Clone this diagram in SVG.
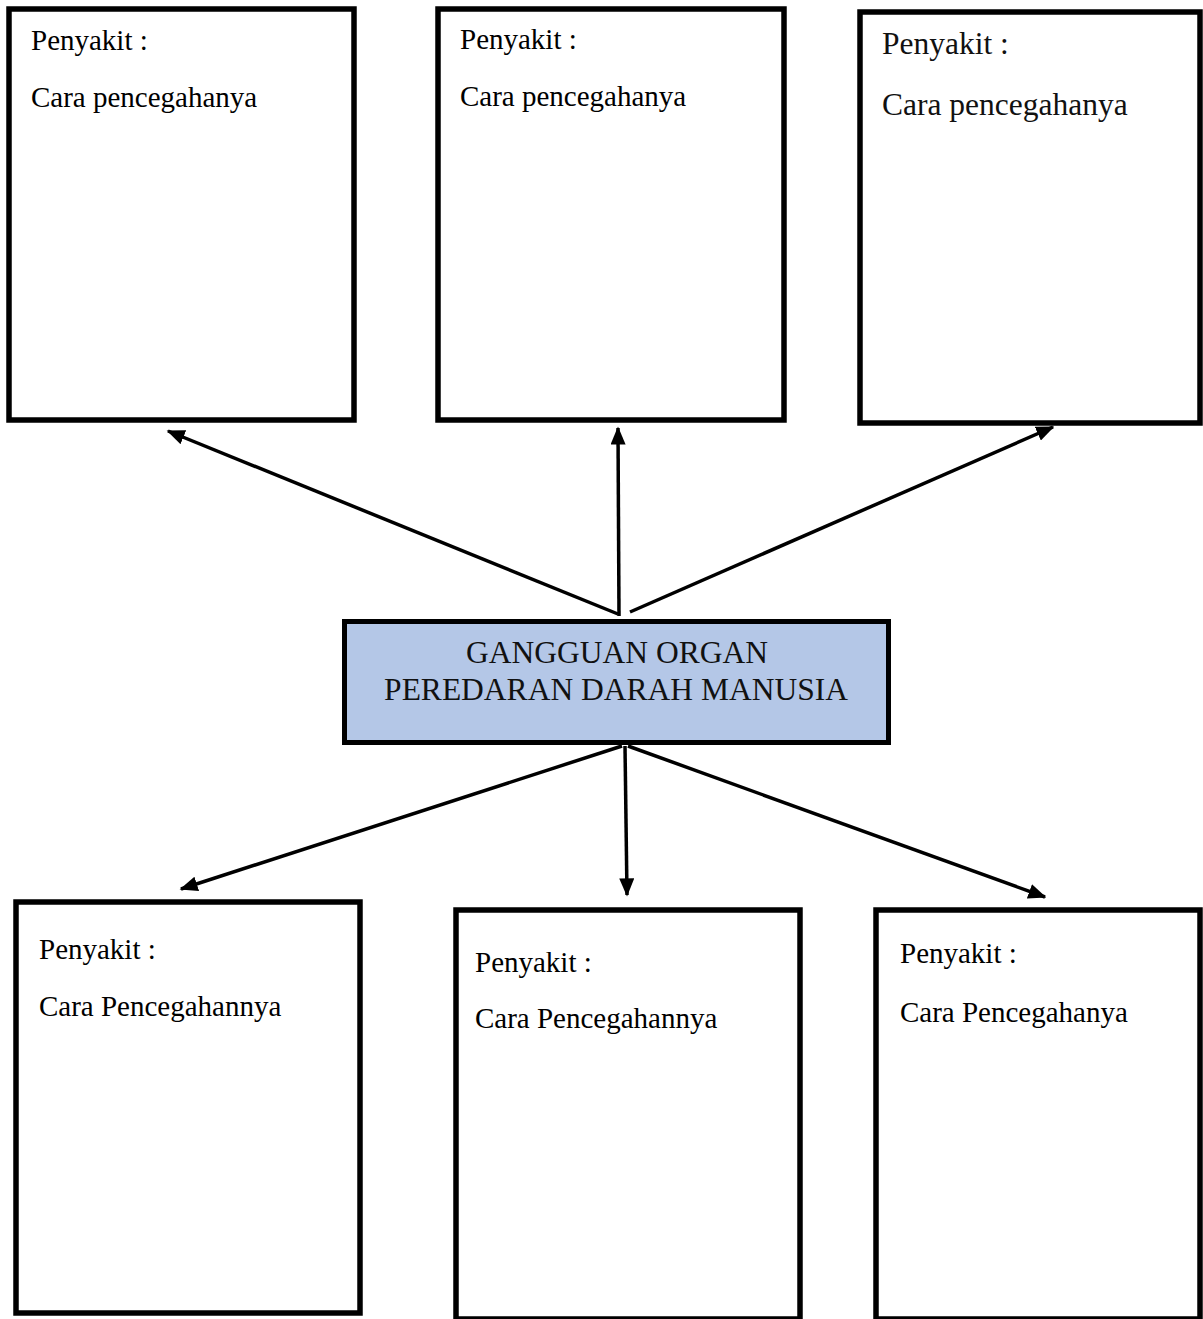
<svg xmlns="http://www.w3.org/2000/svg" width="1203" height="1319" viewBox="0 0 1203 1319">
<defs>
<style>
.box{fill:#fff;stroke:#000;stroke-width:5.5}
.main{fill:#b4c7e7;stroke:#000;stroke-width:5}
.t{font-family:"Liberation Serif","Times New Roman",serif;font-size:29px;fill:#000}
.t2{font-family:"Liberation Serif","Times New Roman",serif;font-size:31.5px;fill:#111}
.c{font-family:"Liberation Serif","Times New Roman",serif;font-size:31.5px;fill:#111;text-anchor:middle}
.conn{stroke:#000;stroke-width:3.5;fill:none}
</style>
<marker id="ah" viewBox="0 0 12 10" refX="11" refY="5" markerWidth="5.2" markerHeight="4.3" markerUnits="strokeWidth" orient="auto">
<path d="M0,0 L12,5 L0,10 z" fill="#000"/>
</marker>
</defs>
<rect width="1203" height="1319" fill="#fff"/>
<g id="box-top-left">
<rect class="box" x="9" y="9" width="345" height="411"/>
<text class="t" x="31" y="50">Penyakit :</text>
<text class="t" x="31" y="107">Cara pencegahanya</text>
</g>
<g id="box-top-middle">
<rect class="box" x="438" y="9" width="346" height="411"/>
<text class="t" x="460" y="49">Penyakit :</text>
<text class="t" x="460" y="106">Cara pencegahanya</text>
</g>
<g id="box-top-right">
<rect class="box" x="860" y="12" width="340" height="411"/>
<text class="t2" x="882" y="54">Penyakit :</text>
<text class="t2" x="882" y="115">Cara pencegahanya</text>
</g>
<g id="box-center">
<rect class="main" x="344.5" y="621.5" width="544" height="121"/>
<text class="c" x="617" y="663">GANGGUAN ORGAN</text>
<text class="c" x="616" y="700">PEREDARAN DARAH MANUSIA</text>
</g>
<g id="box-bottom-left">
<rect class="box" x="16" y="902" width="344" height="411"/>
<text class="t" x="39" y="959">Penyakit :</text>
<text class="t" x="39" y="1016">Cara Pencegahannya</text>
</g>
<g id="box-bottom-middle">
<rect class="box" x="456" y="910" width="344" height="409"/>
<text class="t" x="475" y="972">Penyakit :</text>
<text class="t" x="475" y="1028">Cara Pencegahannya</text>
</g>
<g id="box-bottom-right">
<rect class="box" x="876" y="910" width="324" height="409"/>
<text class="t" x="900" y="963">Penyakit :</text>
<text class="t" x="900" y="1022">Cara Pencegahanya</text>
</g>
<g id="connectors">
<line class="conn" x1="618" y1="614" x2="168" y2="431" marker-end="url(#ah)"/>
<line class="conn" x1="619" y1="616" x2="618" y2="428" marker-end="url(#ah)"/>
<line class="conn" x1="630" y1="612" x2="1053" y2="427" marker-end="url(#ah)"/>
<line class="conn" x1="622" y1="746" x2="181" y2="889" marker-end="url(#ah)"/>
<line class="conn" x1="625" y1="746" x2="627" y2="895" marker-end="url(#ah)"/>
<line class="conn" x1="628" y1="746" x2="1045" y2="897" marker-end="url(#ah)"/>
</g>
</svg>
